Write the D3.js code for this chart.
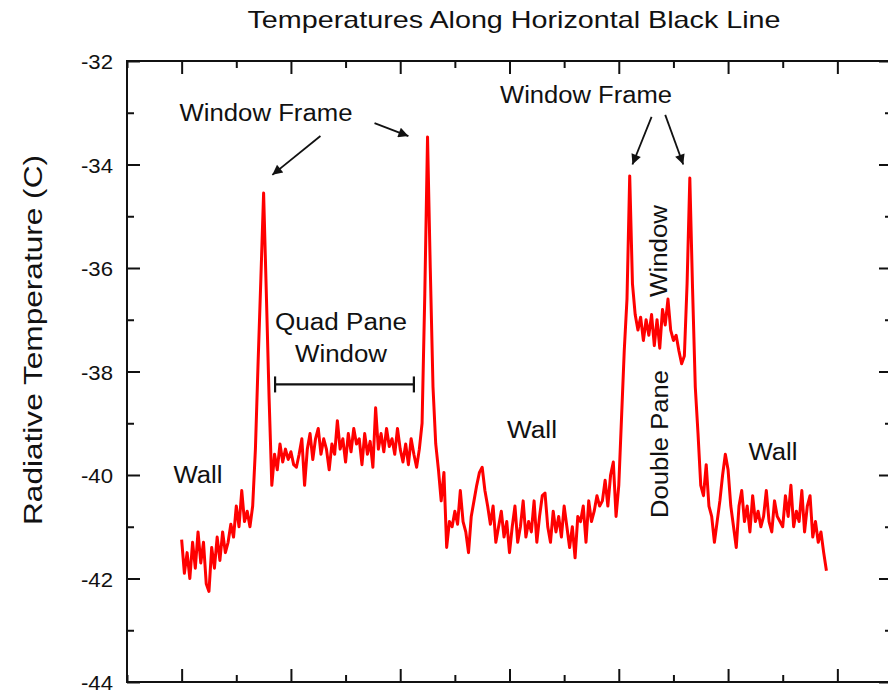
<!DOCTYPE html>
<html>
<head>
<meta charset="utf-8" />
<title>Temperatures Along Horizontal Black Line</title>
<style>
    body { margin: 0; background: #fff; }
    text { font-family: "Liberation Sans", Arial, sans-serif; fill: #111; }
</style>
</head>
<body>
<div id="container"></div>
<script src="https://cdn.jsdelivr.net/npm/d3@7"></script>
<script>
    // temperature, one sample every half pixel-step
    const xStart = 0
    const xStep = 0.5
    const temps = [
        -41.25, -41.9, -41.5, -42.0, -41.3, -41.8, -41.1, -41.7, -41.3, -42.1,
        -42.25, -41.4, -41.8, -41.2, -41.65, -41.1, -41.5, -41.3, -40.95, -41.2,
        -40.6, -41.0, -40.3, -40.9, -40.7, -41.0, -40.6, -39.5, -37.8, -36.2,
        -34.55, -36.5, -38.5, -40.2, -39.6, -39.9, -39.4, -39.75, -39.5, -39.7,
        -39.55, -39.8, -39.85, -39.6, -39.3, -40.2, -39.5, -39.2, -39.7, -39.3,
        -39.1, -39.6, -39.3, -39.5, -39.9, -39.4, -39.6, -38.95, -39.5, -39.3,
        -39.75, -39.2, -39.55, -39.1, -39.4, -39.3, -39.8, -39.2, -39.6, -39.35,
        -39.85, -38.7, -39.5, -39.2, -39.55, -39.1, -39.45, -39.3, -39.6, -39.1,
        -39.5, -39.75, -39.4, -39.8, -39.3, -39.6, -39.85, -39.5, -39.0, -36.5,
        -33.47, -36.0, -38.3, -39.4, -39.9, -40.5, -39.95, -41.4, -40.9, -41.0,
        -40.7, -40.95, -40.3, -40.9, -41.1, -41.5, -40.8, -40.5, -40.2, -39.95,
        -39.85, -40.3, -40.6, -40.95, -40.6, -41.3, -41.0, -40.7, -41.2, -40.9,
        -41.5, -41.0, -40.6, -41.3, -41.0, -40.5, -41.2, -40.9, -41.1, -40.5,
        -41.3, -40.8, -40.4, -40.35, -41.0, -41.3, -40.7, -41.1, -40.8, -41.2,
        -40.6, -41.0, -41.4, -41.0, -41.6, -40.8, -40.9, -40.6, -41.3, -40.5,
        -40.9, -40.7, -40.4, -40.6, -40.5, -40.1, -40.6, -40.0, -39.75, -40.8,
        -40.2, -38.9, -37.6, -36.6, -34.22, -36.3, -36.9, -37.2, -36.95, -37.4,
        -37.0, -37.3, -36.9, -37.5, -37.0, -37.55, -36.8, -37.1, -36.6, -37.2,
        -37.4, -37.3, -37.6, -37.85, -37.7, -36.3, -34.26, -36.4, -38.3, -39.2,
        -40.2, -40.4, -39.8, -40.6, -40.8, -41.3, -40.9, -40.5, -40.0, -39.6,
        -39.9, -40.6, -41.0, -41.4, -40.6, -40.3, -40.9, -40.6, -41.1, -40.4,
        -40.9, -40.7, -41.0, -40.8, -40.3, -40.9, -41.1, -40.5, -40.8, -40.9,
        -41.0, -40.4, -40.8, -40.2, -41.0, -40.7, -40.9, -40.3, -41.1, -40.6,
        -40.4, -41.2, -40.9, -41.3, -41.1, -41.5, -41.85
    ]

    const xDomain = [-10, 130]
    const yDomain = [-44, -32]
    const yMajor = [-44, -42, -40, -38, -36, -34, -32]
    const yMinor = [-43, -41, -39, -37, -35, -33]
    const xMajor = [0, 20, 40, 60, 80, 100, 120]
    const xMinor = [-10, 10, 30, 50, 70, 90, 110, 130]

    const title = 'Temperatures Along Horizontal Black Line'
    const yTitle = 'Radiative Temperature (C)'

    // [text, x, y, textLength, rotated]
    const notes = [
        ['Window Frame', 266, 121, 173, false],
        ['Window Frame', 586, 103, 172, false],
        ['Quad Pane', 341, 330, 132, false],
        ['Window', 341, 362, 92, false],
        ['Wall', 198, 483, 49, false],
        ['Wall', 532, 438, 50, false],
        ['Wall', 773, 460, 49, false],
        ['Window', 667, 251, 92, true],
        ['Double Pane', 668, 444, 148, true]
    ]
    // arrows in data coords: [x1, y1, x2, y2]
    const arrows = [
        [25.4, -33.45, 16.6, -34.2],
        [35.3, -33.2, 41.5, -33.45],
        [86.0, -33.08, 82.5, -34.0],
        [88.5, -33.04, 91.8, -34.0]
    ]
    const bracket = [17.1, 42.5, -38.25]

    const margin = { top: 61, right: 0, bottom: 8, left: 127 }
    const width = 765
    const height = 621

    const svg = d3.select('#container').append('svg')
        .attr('width', 888).attr('height', 690)

    svg.append('defs').append('marker')
        .attr('id', 'head').attr('viewBox', '0 0 10 10')
        .attr('refX', 10).attr('refY', 5)
        .attr('markerWidth', 14).attr('markerHeight', 10)
        .attr('markerUnits', 'userSpaceOnUse')
        .attr('orient', 'auto')
        .append('path').attr('d', 'M0,0 L10,5 L0,10 Z').attr('fill', '#111')

    const chart = svg.append('g').attr('transform', `translate(${margin.left},${margin.top})`)

    const x = d3.scaleLinear().domain(xDomain).range([0, width])
    const y = d3.scaleLinear().domain(yDomain).range([height, 0])

    function tickAxis(axis, vals, size) {
        return axis.tickValues(vals).tickSizeInner(-size).tickSizeOuter(0)
    }

    // left axis with labels
    const left = chart.append('g')
        .call(tickAxis(d3.axisLeft(y), yMajor, 13).tickPadding(14).tickFormat(d => String(d)))
    left.selectAll('text').attr('font-size', 21).attr('textLength', 32)
        .attr('lengthAdjust', 'spacingAndGlyphs').attr('dy', '0.36em')
    chart.append('g').call(tickAxis(d3.axisLeft(y), yMinor, 7).tickFormat(''))
    chart.append('g').attr('transform', `translate(${width},0)`)
        .call(tickAxis(d3.axisRight(y), yMajor, 13).tickFormat(''))
    chart.append('g').attr('transform', `translate(${width},0)`)
        .call(tickAxis(d3.axisRight(y), yMinor, 7).tickFormat(''))
    chart.append('g').attr('transform', `translate(0,${height})`)
        .call(tickAxis(d3.axisBottom(x), xMajor, 13).tickFormat(''))
    chart.append('g').attr('transform', `translate(0,${height})`)
        .call(tickAxis(d3.axisBottom(x), xMinor, 7).tickFormat(''))
    chart.append('g').call(tickAxis(d3.axisTop(x), xMajor, 13).tickFormat(''))
    chart.append('g').call(tickAxis(d3.axisTop(x), xMinor, 7).tickFormat(''))

    chart.selectAll('.domain').remove()
    chart.selectAll('.tick line').attr('stroke', '#111').attr('stroke-width', 2)

    chart.append('rect').attr('width', width).attr('height', height)
        .attr('fill', 'none').attr('stroke', '#111').attr('stroke-width', 2)

    const line = d3.line()
        .x((d, i) => x(xStart + i * xStep))
        .y(d => y(d))

    chart.append('path').datum(temps)
        .attr('d', line)
        .attr('fill', 'none')
        .attr('stroke', '#ff0000')
        .attr('stroke-width', 3)
        .attr('stroke-linejoin', 'round')

    // bracket under the quad pane label
    const bk = chart.append('g').attr('stroke', '#111').attr('stroke-width', 2.2)
    bk.append('line').attr('x1', x(bracket[0])).attr('x2', x(bracket[1]))
        .attr('y1', y(bracket[2])).attr('y2', y(bracket[2]))
    bracket.slice(0, 2).forEach(b => {
        bk.append('line').attr('x1', x(b)).attr('x2', x(b))
            .attr('y1', y(bracket[2]) - 8).attr('y2', y(bracket[2]) + 8)
    })

    chart.selectAll('.arrow').data(arrows).enter().append('line')
        .attr('class', 'arrow')
        .attr('x1', d => x(d[0])).attr('y1', d => y(d[1]))
        .attr('x2', d => x(d[2])).attr('y2', d => y(d[3]))
        .attr('stroke', '#111').attr('stroke-width', 1.8)
        .attr('marker-end', 'url(#head)')

    svg.selectAll('.note').data(notes).enter().append('text')
        .attr('class', 'note')
        .attr('transform', d => d[4] ? `translate(${d[1]},${d[2]}) rotate(-90)` : `translate(${d[1]},${d[2]})`)
        .attr('text-anchor', 'middle')
        .attr('font-size', 23)
        .attr('textLength', d => d[3])
        .attr('lengthAdjust', 'spacingAndGlyphs')
        .text(d => d[0])

    svg.append('text').attr('x', 514).attr('y', 28)
        .attr('text-anchor', 'middle').attr('font-size', 24)
        .attr('textLength', 533).attr('lengthAdjust', 'spacingAndGlyphs')
        .text(title)

    svg.append('text').attr('transform', 'translate(42,340) rotate(-90)')
        .attr('text-anchor', 'middle').attr('font-size', 25)
        .attr('textLength', 370).attr('lengthAdjust', 'spacingAndGlyphs')
        .text(yTitle)
</script>
</body>
</html>
